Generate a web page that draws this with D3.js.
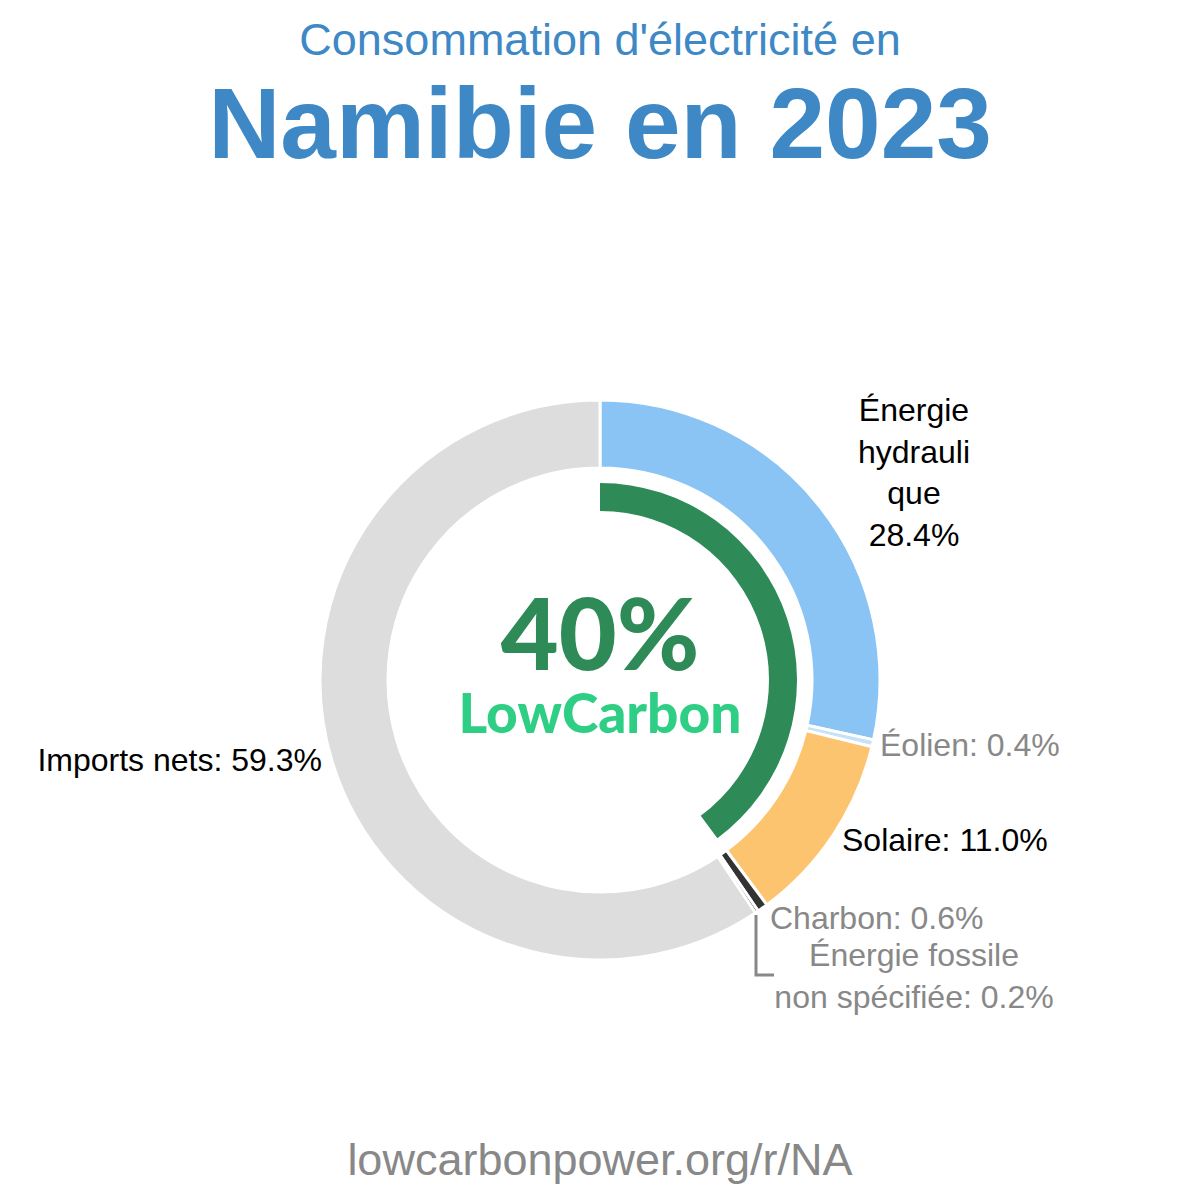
<!DOCTYPE html>
<html>
<head>
<meta charset="utf-8">
<script src="https://cdn.jsdelivr.net/npm/d3@7"></script>
<style>
  body { margin: 0; background: #fff; }
  svg { display: block; }
</style>
</head>
<body>
<svg id="canvas" width="1200" height="1200"></svg>
<script>
// parts of electricity consumption, clockwise from top
let sources = ['Énergie hydraulique', 'Éolien', 'Solaire', 'Charbon', 'Énergie fossile non spécifiée', 'Imports nets']
let shares = [28.4, 0.4, 11.0, 0.6, 0.2, 59.3]
let colors = ['#89c4f4', '#c5e2f7', '#fdc46f', '#333333', '#555555', '#dddddd']
let lowCarbon = [true, true, true, false, false, false]
let lowCarbonShare = 40

let width = 1200, height = 1200
let cx = 600, cy = 680

let canvas = d3.select('#canvas')

// titles
canvas.append('text')
  .attr('x', width / 2).attr('y', 55)
  .attr('text-anchor', 'middle')
  .attr('font-family', 'Liberation Sans, Arial, sans-serif')
  .attr('font-size', 45)
  .attr('fill', '#3d88c5')
  .text("Consommation d'électricité en")

canvas.append('text')
  .attr('x', width / 2).attr('y', 158)
  .attr('text-anchor', 'middle')
  .attr('font-family', 'Liberation Sans, Arial, sans-serif')
  .attr('font-weight', 'bold')
  .attr('font-size', 100)
  .attr('fill', '#3d88c5')
  .text('Namibie en 2023')

canvas.append('text')
  .attr('x', width / 2).attr('y', 1175)
  .attr('text-anchor', 'middle')
  .attr('font-family', 'Liberation Sans, Arial, sans-serif')
  .attr('font-size', 45)
  .attr('fill', '#888888')
  .text('lowcarbonpower.org/r/NA')

let data = sources.map((s, i) => ({ name: s, value: shares[i], color: colors[i] }))

let pie = d3.pie().sort(null).value(d => d.value)
let arcs = pie(data)

let arc = d3.arc().innerRadius(212).outerRadius(280)

let g = canvas.append('g').attr('transform', `translate(${cx},${cy})`)

g.selectAll('path.slice')
  .data(arcs)
  .enter()
  .append('path')
  .attr('class', 'slice')
  .attr('d', arc)
  .attr('fill', d => d.data.color)
  .attr('stroke', '#ffffff')
  .attr('stroke-width', 3)

// low carbon inner arc
let total = d3.sum(shares)
let lcSum = d3.sum(shares.filter((v, i) => lowCarbon[i]))
let inner = d3.arc().innerRadius(169).outerRadius(197)
g.append('path')
  .attr('d', inner({ startAngle: 0, endAngle: 2 * Math.PI * lcSum / total }))
  .attr('fill', '#2e8b57')

g.append('text')
  .attr('x', 0).attr('y', -10)
  .attr('text-anchor', 'middle')
  .attr('font-family', 'Lato, sans-serif')
  .attr('font-weight', 900)
  .attr('font-size', 100)
  .attr('fill', '#2e8b57')
  .text(lowCarbonShare + '%')

g.append('text')
  .attr('x', 0).attr('y', 53)
  .attr('text-anchor', 'middle')
  .attr('font-family', 'Lato, sans-serif')
  .attr('font-weight', 900)
  .attr('font-size', 55)
  .attr('fill', '#2ecf84')
  .text('LowCarbon')

// labels
let fmt = v => v.toFixed(1) + '%'
let labelFont = 'Liberation Sans, Arial, sans-serif'
let labels = [
  { lines: ['Énergie', 'hydrauli', 'que', fmt(shares[0])], x: 914, y: 421, anchor: 'middle', color: '#000' },
  { lines: ['Éolien: ' + fmt(shares[1])], x: 880, y: 756, anchor: 'start', color: '#888' },
  { lines: ['Solaire: ' + fmt(shares[2])], x: 842, y: 851, anchor: 'start', color: '#000' },
  { lines: ['Charbon: ' + fmt(shares[3])], x: 770, y: 929, anchor: 'start', color: '#888' },
  { lines: ['Énergie fossile', 'non spécifiée: ' + fmt(shares[4])], x: 914, y: 966, anchor: 'middle', color: '#888' },
  { lines: ['Imports nets: ' + fmt(shares[5])], x: 322, y: 771, anchor: 'end', color: '#000' }
]

labels.forEach(l => {
  let t = canvas.append('text')
    .attr('font-family', labelFont)
    .attr('font-size', 32)
    .attr('fill', l.color)
    .attr('text-anchor', l.anchor)
  l.lines.forEach((line, i) => {
    t.append('tspan')
      .attr('x', l.x)
      .attr('y', l.y + i * 41.5)
      .text(line)
  })
})

// bracket for the tiny fossil slice
canvas.append('path')
  .attr('d', 'M756,915 L756,975 L774,975')
  .attr('fill', 'none')
  .attr('stroke', '#888')
  .attr('stroke-width', 3)
</script>
</body>
</html>
